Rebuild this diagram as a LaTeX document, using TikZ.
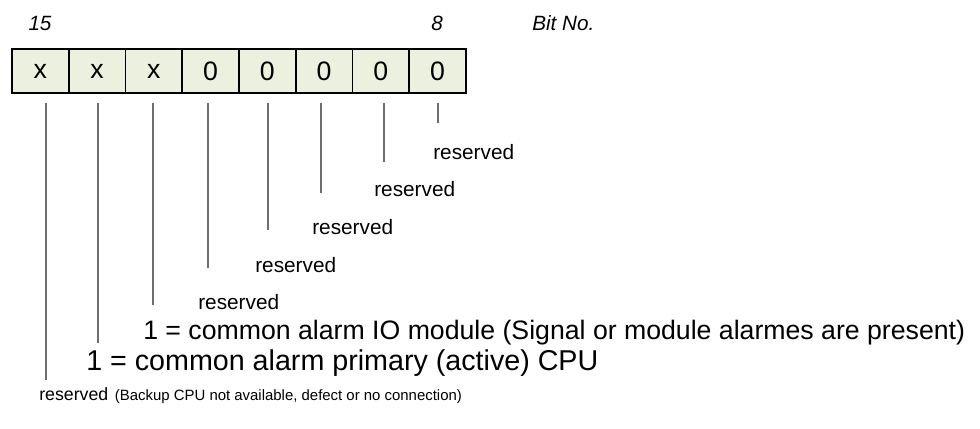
\documentclass[tikz,border=0pt]{standalone}
\usepackage{fontspec}
\setmainfont{Liberation Sans}
\definecolor{cellfill}{HTML}{EBF1DE}
\definecolor{leadgray}{HTML}{6E6E6E}
\begin{document}
\begin{tikzpicture}[x=0.75pt,y=-0.75pt,
  cellbox/.style={draw=black,line width=1.4pt,fill=cellfill,minimum width=56.75*0.75pt,minimum height=44*0.75pt,inner sep=0pt,font=\fontsize{20}{24}\selectfont},
  bitno/.style={inner sep=0pt,font=\fontsize{15.5}{18}\selectfont\itshape},
  lbl/.style={inner sep=0pt,anchor=west,font=\fontsize{15.6}{18}\selectfont},
  biglbl/.style={inner sep=0pt,anchor=west,font=\fontsize{20}{24}\selectfont},
  lead/.style={draw=leadgray,line width=0.9pt}]
\useasboundingbox (0,0) rectangle (980,428);
% bit cells
\foreach \t [count=\i from 0] in {x,x,x,0,0,0,0,0}{
  \node[cellbox] (c\i) at (12+28.375+56.75*\i,71) {\t};
}
\node[bitno] (b15) at (40,23) {15};
\node[bitno] (b8) at (437,23) {8};
\node[bitno,anchor=west] (bitno) at (532,23) {Bit No.};
% leader start/end coordinates
\foreach \x/\e [count=\i from 0] in {46/380,98/343,153/305,208/268,268/230,321/193,384/162,438/123}{
  \coordinate (s\i) at (\x,103);
  \coordinate (e\i) at (\x,\e);
  \draw[lead] (s\i) -- (e\i);
}
% labels
\node[lbl] (r7) at (433,152) {reserved};
\node[lbl] (r6) at (374,189) {reserved};
\node[lbl] (r5) at (312,227) {reserved};
\node[lbl] (r4) at (255,265) {reserved};
\node[lbl] (r3) at (198,302) {reserved};
\node[biglbl] (io) at (143,333) {1 = common alarm IO module (Signal or module alarmes are present)};
\node[biglbl,font=\fontsize{21.5}{25}\selectfont] (cpu) at (86,363) {1 = common alarm primary (active) CPU};
\node[inner sep=0pt,anchor=west] (r0) at (39,396) {\fontsize{13.3}{16}\selectfont reserved\hspace{5pt}\fontsize{11.2}{13}\selectfont(Backup CPU not available, defect or no connection)};
\end{tikzpicture}
\end{document}
